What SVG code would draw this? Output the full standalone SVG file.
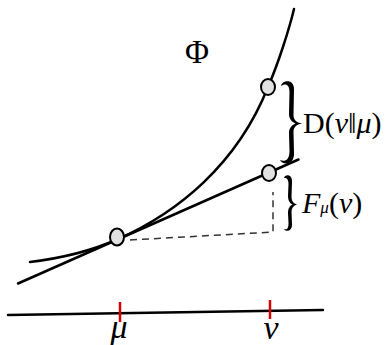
<svg xmlns="http://www.w3.org/2000/svg" width="385" height="345" viewBox="0 0 385 345">
<style>
.ln{fill:none;stroke:#000;stroke-width:2.5;stroke-linecap:round}
.dash{fill:none;stroke:#333;stroke-width:1.5;stroke-dasharray:7 5}
.pt{fill:#e2e2e2;stroke:#000;stroke-width:2}
.tick{stroke:#d40000;stroke-width:2.5}
.br{fill:#000;stroke:none}
.t{font-family:"Liberation Serif","Times New Roman",serif;font-size:34px;fill:#000}
.m{font-size:30px}
.i{font-style:italic}
.sub{font-size:17px}
</style>
<rect width="385" height="345" fill="#fff"/>
<g id="connectors">
<path id="phi-curve" class="ln" d="M30,262 Q79.6,256 117,239.5 C177,213 237,165 268,87 C278,64 289,30 294,9"/>
<path id="tangent" class="ln" d="M18,283.5 L298.5,159.5"/>
<path id="dashes" class="dash" d="M130,240 L273,232 L273,192"/>
<path id="axis" class="ln" d="M8,315 L323,310"/>
</g>
<g id="node-tangent-point"><ellipse class="pt" cx="117" cy="237" rx="7" ry="8.5"/></g>
<g id="node-phi-point"><ellipse class="pt" cx="268" cy="87" rx="7" ry="8"/></g>
<g id="node-line-point"><ellipse class="pt" cx="269" cy="173" rx="7" ry="8"/></g>
<g id="brace-D">
<path class="br" d="M281,86 C282,80 294.5,78 294,90 L293.5,115 C293.5,120 296.5,122.5 302,123.5 C296.5,124.5 293.5,127 293.5,132 L294,153 C294.5,166 282,165 280,160 C284,162 289.5,161 289.5,151 L289,133 C289,128 292,125 295.5,123.5 C292,122 289,119 289,114 L289.5,92 C289.5,84 285,83 281,86 Z"/>
</g>
<g id="brace-F">
<path class="br" d="M284,178 C285,174 292.5,174 292,182 L291.5,197 C291.5,201 293.5,203.5 297,204.5 C293.5,205.5 291.5,208 291.5,212 L292,224 C292.5,232 285,232 284,229 C287,230 288.5,228.5 288.5,223 L288,213 C288,208.5 290,205.5 292.5,204.5 C290,203.5 288,200.5 288,196 L288.5,184 C288.5,179 286.5,177.5 284,178 Z"/>
</g>
<g id="ticks">
<line class="tick" x1="120" y1="302" x2="120" y2="322"/>
<line class="tick" x1="270" y1="300" x2="270" y2="319"/>
</g>
<g id="labels">
<text class="t" x="185" y="63" textLength="24" lengthAdjust="spacingAndGlyphs">Φ</text>
<text class="t m" x="303" y="132.5">D(<tspan class="i">ν</tspan>‖<tspan class="i">μ</tspan>)</text>
<text class="t m" x="302" y="213"><tspan class="i">F</tspan><tspan class="i sub">μ</tspan>(<tspan class="i">ν</tspan>)</text>
<text class="t i" x="119" y="337.5" text-anchor="middle">μ</text>
<text class="t i" x="271" y="339" text-anchor="middle">ν</text>
</g>
</svg>
